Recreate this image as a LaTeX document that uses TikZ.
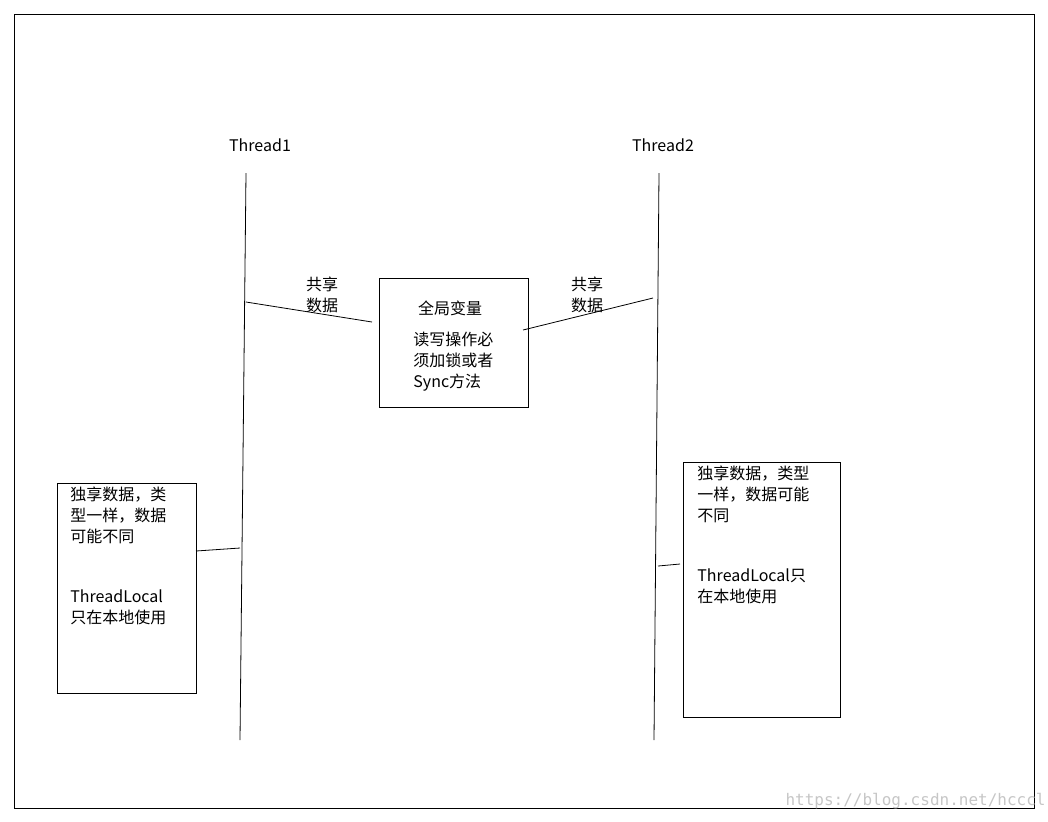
\documentclass[tikz,border=0pt]{standalone}
\usepackage{fontspec}
\setmainfont{Noto Sans CJK SC}
\setmonofont{DejaVu Sans Mono}
\begin{document}
\begin{tikzpicture}
	[
		x=0.5pt,y=-0.5pt,
		box/.style={draw,thin},
		txt/.style={font=\fontsize{8}{10.3}\selectfont,align=left,inner sep=0pt},
		link/.style={thin}
	]
	\useasboundingbox (0,0) rectangle (1048,821);
	
	% Frame.
	\draw[thin] (14,14) rectangle (1034,808);
	
	% Threads.
	\node[txt] (t1) at (260,145) {Thread1};
	\node[txt] (t2) at (663,145) {Thread2};
	\coordinate (t1top) at (246,173);
	\coordinate (t1bot) at (240,740);
	\coordinate (t2top) at (659,173);
	\coordinate (t2bot) at (654,740);
	\draw[link] (t1top) -- (t1bot);
	\draw[link] (t2top) -- (t2bot);
	
	% Shared box.
	\draw[box] (379,278) rectangle (528,407);
	\node[txt] (glob) at (450,308) {全局变量};
	\node[txt,anchor=north west] (globnote) at (413,332) {读写操作必\\须加锁或者\\Sync方法};
	\coordinate (s1a) at (246,302);
	\coordinate (s1b) at (372,322);
	\coordinate (s2a) at (523,330);
	\coordinate (s2b) at (653,298);
	\draw[link] (s1a) -- (s1b);
	\draw[link] (s2a) -- (s2b);
	\node[txt,align=center] (sh1) at (322,295) {共享\\数据};
	\node[txt,align=center] (sh2) at (587,295) {共享\\数据};
	
	% Local boxes.
	\draw[box] (57,483) rectangle (196,693);
	\node[txt,anchor=north west] (loc1) at (70,487) {独享数据，类\\型一样，数据\\可能不同\\[20pt]ThreadLocal\\只在本地使用};
	\draw[box] (683,462) rectangle (840,717);
	\node[txt,anchor=north west] (loc2) at (697,466) {独享数据，类型\\一样，数据可能\\不同\\[20pt]ThreadLocal只\\在本地使用};
	\coordinate (l1a) at (196,551);
	\coordinate (l1b) at (240,548);
	\coordinate (l2a) at (658,566);
	\coordinate (l2b) at (680,564);
	\draw[link] (l1a) -- (l1b);
	\draw[link] (l2a) -- (l2b);
	
	% Watermark.
	\node[font=\ttfamily\fontsize{8}{9}\selectfont,text=gray!45,anchor=east,inner sep=0pt] (wm) at (1046,801) {https://blog.csdn.net/hcccl};
\end{tikzpicture}
\end{document}
